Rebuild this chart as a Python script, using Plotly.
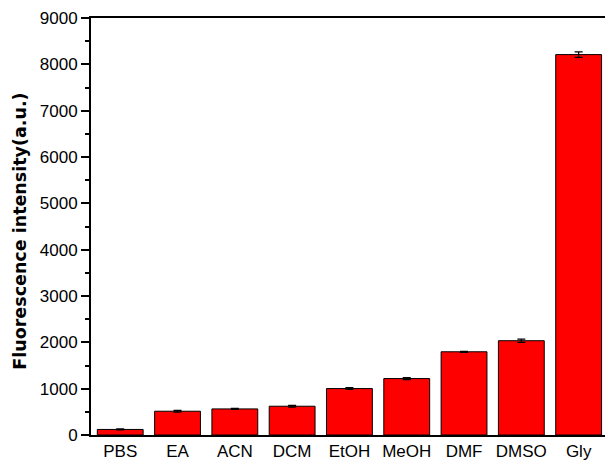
import plotly.graph_objects as go

categories = ["PBS", "EA", "ACN", "DCM", "EtOH", "MeOH", "DMF", "DMSO", "Gly"]
values = [120, 513, 563, 621, 1002, 1218, 1796, 2035, 8210]
errors = [12, 20, 12, 18, 20, 22, 12, 35, 60]
y_ticks = [0, 1000, 2000, 3000, 4000, 5000, 6000, 7000, 8000, 9000]
y_title = "Fluorescence intensity(a.u.)"

fig = go.Figure()
fig.add_trace(go.Bar(
    x=list(range(len(categories))), y=values,
    width=0.8,
    marker=dict(color="#ff0000", line=dict(color="#000000", width=1)),
    error_y=dict(type="data", array=errors, visible=True, color="#000000", thickness=1.2, width=4),
))
fig.update_layout(
    width=605, height=462,
    margin=dict(l=91, r=0, t=18, b=27),
    plot_bgcolor="white", paper_bgcolor="white",
    showlegend=False,
    font=dict(family="Liberation Sans, Arial", size=17, color="#000000"),
)
fig.update_xaxes(
    range=[-0.51, 8.46],
    tickvals=list(range(len(categories))), ticktext=categories,
    showline=True, linecolor="black", linewidth=2, mirror=True,
    ticks="", showgrid=False, zeroline=False,
    tickfont=dict(size=17),
)
fig.update_yaxes(
    range=[0, 9000],
    tickvals=y_ticks,
    showline=True, linecolor="black", linewidth=2,
    ticks="outside", ticklen=8, tickwidth=1.5, tickcolor="black",
    minor=dict(dtick=500, ticks="outside", ticklen=4, tickwidth=1.5, tickcolor="black"),
    showgrid=False, zeroline=False,
    tickfont=dict(size=17),
)
fig.add_annotation(
    text="<b>" + y_title + "</b>",
    xref="paper", yref="paper", x=0, y=0.4875,
    xanchor="center", yanchor="middle", xshift=-71,
    textangle=-90, showarrow=False,
    font=dict(family="DejaVu Sans", size=17.5, color="#000000"),
)
fig.write_html("out.html")
